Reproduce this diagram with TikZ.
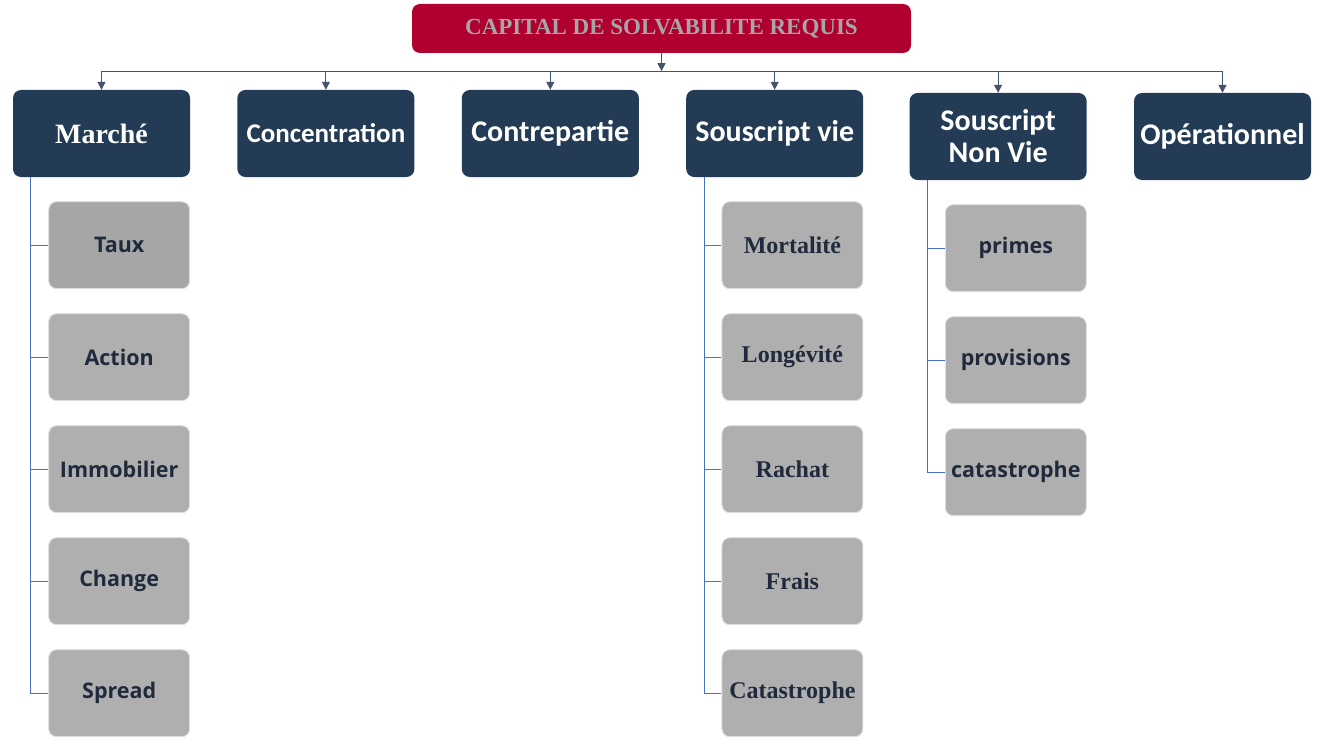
\documentclass[tikz,border=0pt]{standalone}
\usepackage{fontspec}
\setmainfont{Liberation Serif}
\newfontfamily\carlito{Carlito}
\newfontfamily\opensans{Open Sans}
\usetikzlibrary{arrows.meta,positioning}
\definecolor{scrred}{HTML}{B00030}
\definecolor{navy}{HTML}{243B55}
\definecolor{subgray}{HTML}{AFAFAF}
\definecolor{tauxgray}{HTML}{A6A6A6}
\definecolor{ink}{HTML}{1F2A3C}
\definecolor{busline}{HTML}{44546A}
\definecolor{branchline}{HTML}{4472C4}
\tikzstyle{scr}=[
	rectangle,
	rounded corners=8pt,
	fill=scrred,
	text=tauxgray,
	minimum width=499pt,
	minimum height=49pt,
	inner sep=0pt,
	font=\bfseries\fontsize{23}{28}\selectfont
]
\tikzstyle{module}=[
	rectangle,
	rounded corners=8pt,
	fill=navy,
	text=white,
	minimum width=177pt,
	minimum height=87pt,
	inner sep=0pt,
	align=center,
	font=\carlito\bfseries\fontsize{30}{32}\selectfont
]
\tikzstyle{submodule}=[
	rectangle,
	rounded corners=8pt,
	fill=subgray,
	draw=gray!25,
	line width=1pt,
	text=ink,
	minimum width=141pt,
	minimum height=87pt,
	inner sep=0pt,
	font=\opensans\bfseries\fontsize{21.5}{26}\selectfont
]
\tikzstyle{serifed}=[
	font=\rmfamily\bfseries\fontsize{24}{26}\selectfont
]
\tikzstyle{feed}=[
	-{Triangle[length=8pt,width=8pt]},
	busline,
	line width=1pt
]
\tikzstyle{branch}=[
	branchline,
	line width=1pt
]

\begin{document}
\begin{tikzpicture}[x=1pt,y=-1pt]
\useasboundingbox (0,0) rectangle (1325,749);
\node [scr] (SCR) at (661.5,28.5) {CAPITAL DE SOLVABILITE REQUIS};
\node [module, font=\rmfamily\bfseries\fontsize{28}{32}\selectfont] (Marche) at (101.5,133.5) {Marché};
\node [module, font=\carlito\bfseries\fontsize{27}{32}\selectfont] (Concentration) [right=47pt of Marche] {Concentration};
\node [module] (Contrepartie) [right=47pt of Concentration] {Contrepartie};
\node [module] (Vie) [right=47pt of Contrepartie] {Souscript vie};
\node [module] (NonVie) [right=46pt of Vie, yshift=-3pt] {Souscript\\Non Vie};
\node [module] (Operationnel) [right=47pt of NonVie] {Opérationnel};

\coordinate (bus) at ([yshift=-18pt]SCR.south);
\draw [feed] (SCR) -- (bus);
\draw [busline, line width=1pt] (bus -| Marche) -- (bus -| Operationnel);
\foreach \mod in {Marche,Concentration,Contrepartie,Vie,NonVie,Operationnel}
	\draw [feed] (bus -| \mod) -- (\mod);

\node [submodule, fill=tauxgray] (Taux) [below=24pt of Marche.south east, anchor=north east] {Taux};
\node [submodule] (Action) [below=24pt of Taux] {Action};
\node [submodule] (Immobilier) [below=24pt of Action] {Immobilier};
\node [submodule] (Change) [below=24pt of Immobilier] {Change};
\node [submodule] (Spread) [below=24pt of Change] {Spread};

\node [submodule, serifed] (Mortalite) [below=24pt of Vie.south east, anchor=north east] {Mortalité};
\node [submodule, serifed] (Longevite) [below=24pt of Mortalite] {Longévité};
\node [submodule, serifed] (Rachat) [below=24pt of Longevite] {Rachat};
\node [submodule, serifed] (Frais) [below=24pt of Rachat] {Frais};
\node [submodule, serifed] (CatVie) [below=24pt of Frais] {Catastrophe};

\node [submodule] (Primes) [below=24pt of NonVie.south east, anchor=north east] {primes};
\node [submodule] (Provisions) [below=24pt of Primes] {provisions};
\node [submodule] (CatNonVie) [below=24pt of Provisions] {catastrophe};

\coordinate (marchebranch) at ([xshift=18pt]Marche.south west);
\draw [branch] (marchebranch) |- (Spread);
\foreach \sub in {Taux,Action,Immobilier,Change}
	\draw [branch] (marchebranch |- \sub) -- (\sub);

\coordinate (viebranch) at ([xshift=18pt]Vie.south west);
\draw [branch] (viebranch) |- (CatVie);
\foreach \sub in {Mortalite,Longevite,Rachat,Frais}
	\draw [branch] (viebranch |- \sub) -- (\sub);

\coordinate (nonviebranch) at ([xshift=18pt]NonVie.south west);
\draw [branch] (nonviebranch) |- (CatNonVie);
\foreach \sub in {Primes,Provisions}
	\draw [branch] (nonviebranch |- \sub) -- (\sub);
\end{tikzpicture}
\end{document}
